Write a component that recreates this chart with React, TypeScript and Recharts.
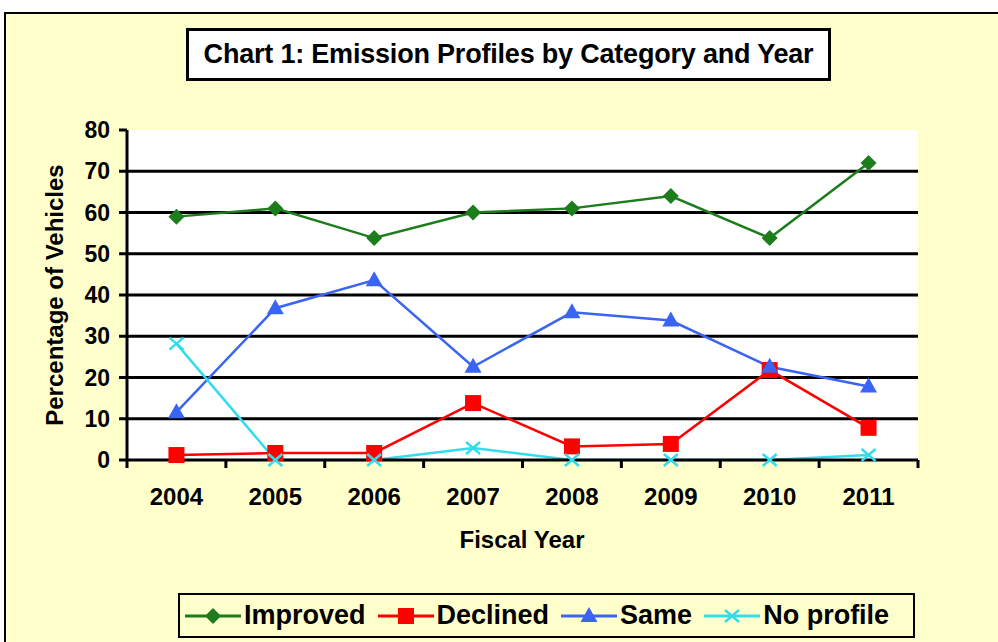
import React from 'react';
import { LineChart, Line, XAxis, YAxis, CartesianGrid } from 'recharts';

const years = ['2004', '2005', '2006', '2007', '2008', '2009', '2010', '2011'];
const improved = [59, 61, 53.8, 60, 61, 64, 53.8, 72];
const declined = [1.2, 1.7, 1.7, 13.8, 3.3, 3.9, 21.8, 7.8];
const same = [11.6, 36.8, 43.6, 22.6, 35.8, 33.8, 22.6, 17.8];
const noProfile = [28.2, 0, 0, 2.9, 0, 0, 0, 1.2];
const yTicks = [0, 10, 20, 30, 40, 50, 60, 70, 80];

const FONT = '"Liberation Sans", Arial, sans-serif';
const TICK_SIZE = 8;
const TICK_MARGIN = 20;

type Marker = 'diamond' | 'square' | 'triangle' | 'star';

interface SeriesDef {
  key: string;
  name: string;
  color: string;
  marker: Marker;
}

const series: SeriesDef[] = [
  { key: 'improved', name: 'Improved', color: '#1d7d1d', marker: 'diamond' },
  { key: 'declined', name: 'Declined', color: '#ff0000', marker: 'square' },
  { key: 'same', name: 'Same', color: '#3a64f2', marker: 'triangle' },
  { key: 'noProfile', name: 'No profile', color: '#33dcec', marker: 'star' },
];

const data = years.map((year, i) => ({
  year,
  improved: improved[i],
  declined: declined[i],
  same: same[i],
  noProfile: noProfile[i],
}));

const drawMarker = (marker: Marker, cx: number, cy: number, color: string, key?: string) => {
  switch (marker) {
    case 'diamond':
      return (
        <polygon
          key={key}
          points={`${cx},${cy - 8} ${cx + 8},${cy} ${cx},${cy + 8} ${cx - 8},${cy}`}
          fill={color}
        />
      );
    case 'square':
      return <rect key={key} x={cx - 8} y={cy - 8} width={16} height={16} fill={color} />;
    case 'triangle':
      return (
        <polygon
          key={key}
          points={`${cx},${cy - 9} ${cx + 8.5},${cy + 6} ${cx - 8.5},${cy + 6}`}
          fill={color}
        />
      );
    default:
      return (
        <g key={key} stroke={color} strokeWidth={2.5}>
          <line x1={cx - 7} y1={cy - 6} x2={cx + 7} y2={cy + 6} />
          <line x1={cx - 7} y1={cy + 6} x2={cx + 7} y2={cy - 6} />
        </g>
      );
  }
};

const YearTick = (props: any) => {
  const { x, y, payload, index, visibleTicksCount } = props;
  const half = payload?.offset ? payload.offset : 49.4;
  const axisY = y - TICK_SIZE - TICK_MARGIN;
  const last = index === visibleTicksCount - 1;
  return (
    <g>
      <line x1={x - half} y1={axisY} x2={x - half} y2={axisY + TICK_SIZE} stroke="#000" strokeWidth={3} />
      {last && (
        <line x1={x + half} y1={axisY} x2={x + half} y2={axisY + TICK_SIZE} stroke="#000" strokeWidth={3} />
      )}
      <text
        x={x}
        y={y}
        dy={17}
        textAnchor="middle"
        fill="#000"
        fontFamily={FONT}
        fontWeight="bold"
        fontSize={24}
      >
        {payload.value}
      </text>
    </g>
  );
};

const App: React.FC = () => {
  return (
    <div
      style={{
        position: 'absolute',
        top: 0,
        left: 0,
        width: 998,
        height: 642,
        overflow: 'hidden',
        background: '#fff',
        fontFamily: FONT,
      }}
    >
      <div
        style={{
          position: 'absolute',
          left: 4,
          top: 12,
          width: 1000,
          height: 640,
          border: '2px solid #000',
          background: '#ffffcc',
        }}
      />
      <div
        style={{
          position: 'absolute',
          left: 186,
          top: 28,
          width: 645,
          height: 53,
          boxSizing: 'border-box',
          border: '3px solid #000',
          background: '#fff',
          display: 'flex',
          alignItems: 'center',
          justifyContent: 'center',
          fontWeight: 'bold',
          fontSize: 27,
          letterSpacing: -0.2,
          whiteSpace: 'nowrap',
        }}
      >
        Chart 1: Emission Profiles by Category and Year
      </div>

      <div style={{ position: 'absolute', left: 0, top: 0 }}>
        <LineChart
          width={998}
          height={642}
          data={data}
          margin={{ top: 130, right: 80, bottom: 122, left: 27 }}
        >
          <CartesianGrid
            vertical={false}
            horizontalValues={yTicks.filter((v) => v > 0 && v < 80)}
            stroke="#000"
            strokeWidth={3}
            fill="#fff"
          />
          <XAxis
            dataKey="year"
            scale="band"
            height={60}
            axisLine={{ stroke: '#000', strokeWidth: 3 }}
            tickLine={false}
            tickSize={TICK_SIZE}
            tickMargin={TICK_MARGIN}
            tick={<YearTick />}
            interval={0}
          />
          <XAxis
            xAxisId="top"
            dataKey="year"
            orientation="top"
            height={0}
            tick={false}
            tickLine={false}
            axisLine={{ stroke: '#8a8a8a', strokeWidth: 3 }}
          />
          <YAxis
            width={100}
            domain={[0, 80]}
            ticks={yTicks}
            interval={0}
            axisLine={{ stroke: '#000', strokeWidth: 3 }}
            tickLine={{ stroke: '#000', strokeWidth: 3 }}
            tickSize={TICK_SIZE}
            tickMargin={9}
            tick={{ fill: '#000', fontSize: 23, fontWeight: 'bold', fontFamily: FONT }}
          />
          <YAxis
            yAxisId="right"
            orientation="right"
            width={0}
            domain={[0, 80]}
            tick={false}
            tickLine={false}
            axisLine={{ stroke: '#8a8a8a', strokeWidth: 3 }}
          />
          {series.map((s) => (
            <Line
              key={s.key}
              dataKey={s.key}
              name={s.name}
              stroke={s.color}
              strokeWidth={2.5}
              isAnimationActive={false}
              dot={(p: any) => drawMarker(s.marker, p.cx, p.cy, s.color, `${s.key}-${p.index}`)}
              activeDot={false}
            />
          ))}
        </LineChart>
      </div>

      <div
        style={{
          position: 'absolute',
          left: 55,
          top: 295,
          transform: 'translate(-50%, -50%) rotate(-90deg)',
          whiteSpace: 'nowrap',
          fontWeight: 'bold',
          fontSize: 24,
        }}
      >
        Percentage of Vehicles
      </div>
      <div
        style={{
          position: 'absolute',
          left: 522,
          top: 540,
          transform: 'translate(-50%, -50%)',
          whiteSpace: 'nowrap',
          fontWeight: 'bold',
          fontSize: 24,
        }}
      >
        Fiscal Year
      </div>

      <div
        style={{
          position: 'absolute',
          left: 178,
          top: 593,
          width: 737,
          height: 45,
          boxSizing: 'border-box',
          border: '2px solid #000',
          display: 'flex',
          alignItems: 'center',
          paddingLeft: 5,
          fontWeight: 'bold',
          fontSize: 27,
          whiteSpace: 'nowrap',
        }}
      >
        {series.map((s) => (
          <div key={s.key} style={{ display: 'flex', alignItems: 'center', marginRight: 12 }}>
            <svg width={56} height={20}>
              <line x1={0} y1={10} x2={56} y2={10} stroke={s.color} strokeWidth={3} />
              {drawMarker(s.marker, 28, 10, s.color)}
            </svg>
            <span style={{ marginLeft: 3 }}>{s.name}</span>
          </div>
        ))}
      </div>
    </div>
  );
};

export default App;
